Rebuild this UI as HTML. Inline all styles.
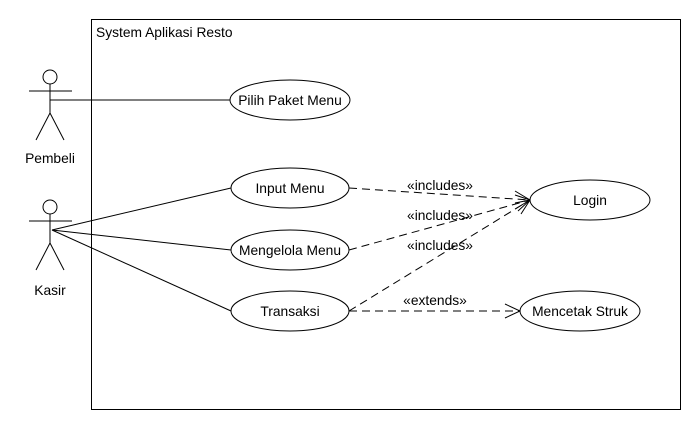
<!DOCTYPE html>
<html><head><style>body{margin:0;background:#fff}svg{display:block}text{font-family:"Liberation Sans",Arial,sans-serif;font-size:13.8px;fill:#000}</style></head>
<body>
<svg width="700" height="430" xmlns="http://www.w3.org/2000/svg">
<rect x="91.5" y="19.5" width="589" height="390" fill="none" stroke="#000"/>
<text x="96" y="37">System Aplikasi Resto</text>
<g stroke="#000" fill="none" stroke-width="1">
<circle cx="50" cy="77" r="7" fill="#fff"/>
<line x1="29" y1="91" x2="72" y2="91"/><line x1="50" y1="84" x2="50" y2="113"/>
<line x1="50" y1="113" x2="36" y2="140"/><line x1="50" y1="113" x2="64" y2="140"/>
<circle cx="50" cy="207" r="7" fill="#fff"/>
<line x1="29" y1="221" x2="72" y2="221"/><line x1="50" y1="214" x2="50" y2="243"/>
<line x1="50" y1="243" x2="36" y2="270"/><line x1="50" y1="243" x2="64" y2="270"/>
<line x1="50" y1="100" x2="230" y2="100"/>
<line x1="52" y1="230" x2="231" y2="188"/>
<line x1="52" y1="230" x2="231" y2="250"/>
<line x1="52" y1="230" x2="231" y2="311"/>
<g stroke-dasharray="8,5">
<line x1="349" y1="188" x2="530" y2="200"/>
<line x1="349" y1="250" x2="530" y2="200"/>
<line x1="349" y1="311" x2="530" y2="200"/>
<line x1="349" y1="311" x2="520" y2="311"/>
</g>
<polyline points="515,191 530,200 515,209"/>
<polyline points="515,195 530,200 518,211"/>
<polyline points="515,203 530,200 521,214"/>
<polyline points="505,304 520,311 505,318"/>
<ellipse cx="290" cy="100" rx="60" ry="20" fill="#fff"/>
<ellipse cx="290" cy="188" rx="59" ry="20" fill="#fff"/>
<ellipse cx="290" cy="250" rx="59" ry="20" fill="#fff"/>
<ellipse cx="290" cy="311" rx="59" ry="20" fill="#fff"/>
<ellipse cx="590" cy="200" rx="60" ry="20" fill="#fff"/>
<ellipse cx="580" cy="311" rx="60" ry="20" fill="#fff"/>
</g>
<g text-anchor="middle">
<text x="50" y="163">Pembeli</text>
<text x="50" y="295">Kasir</text>
<text x="290" y="105">Pilih Paket Menu</text>
<text x="290" y="193">Input Menu</text>
<text x="290" y="255">Mengelola Menu</text>
<text x="290" y="316">Transaksi</text>
<text x="590" y="205">Login</text>
<text x="580" y="316">Mencetak Struk</text>
<text x="440" y="190">«includes»</text>
<text x="440" y="220">«includes»</text>
<text x="440" y="250">«includes»</text>
<text x="435" y="305">«extends»</text>
</g>
</svg>
</body></html>
